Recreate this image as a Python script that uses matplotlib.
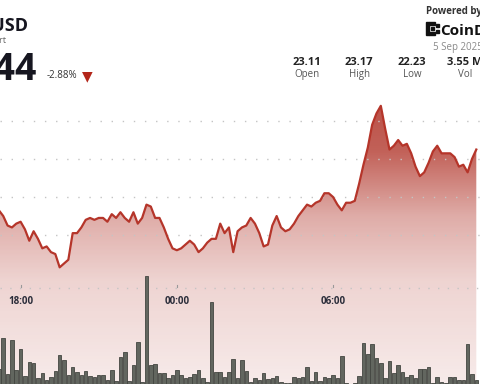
import numpy as np
import pandas as pd
import matplotlib.pyplot as plt
import matplotlib.dates as mdates
from matplotlib.patches import Rectangle

plt.rcParams['font.family'] = ['Open Sans', 'DejaVu Sans']

# 10 minute candles, LINK/USD
times = pd.date_range('2025-09-04 17:10', periods=111, freq='10min')

price = [22.73, 22.70, 22.65, 22.64, 22.66, 22.67, 22.63, 22.57, 22.62, 22.58,
         22.53, 22.54, 22.51, 22.50, 22.43, 22.45, 22.47, 22.61, 22.61, 22.64,
         22.68, 22.69, 22.68, 22.69, 22.69, 22.67, 22.71, 22.69, 22.72, 22.69,
         22.67, 22.72, 22.66, 22.69, 22.76, 22.75, 22.69, 22.69, 22.64, 22.58,
         22.53, 22.52, 22.53, 22.55, 22.57, 22.55, 22.51, 22.53, 22.56, 22.58,
         22.58, 22.66, 22.61, 22.64, 22.51, 22.62, 22.64, 22.65, 22.69, 22.66,
         22.61, 22.54, 22.55, 22.65, 22.70, 22.64, 22.62, 22.63, 22.66, 22.70,
         22.73, 22.76, 22.75, 22.77, 22.78, 22.82, 22.82, 22.80, 22.76, 22.73,
         22.77, 22.77, 22.78, 22.87, 22.97, 23.06, 23.18, 23.24, 23.28, 23.16,
         23.05, 23.07, 23.10, 23.07, 23.08, 23.03, 22.96, 22.91, 22.93, 22.98,
         23.04, 23.07, 23.03, 23.03, 23.03, 23.01, 22.96, 22.97, 22.93, 23.00,
         23.05]

# volume in thousands
volume = [15, 46, 10, 44, 14, 35, 8, 22, 21, 6, 11, 4, 7, 13, 29, 24, 9, 17, 12, 9,
          13, 8, 7, 9, 9, 4, 14, 3, 27, 32, 3, 19, 42, 2, 108, 19, 20, 11, 11, 6,
          9, 14, 9, 6, 7, 10, 14, 6, 2, 82, 12, 12, 7, 12, 25, 6,
          24, 13, 2, 6, 4, 11, 5, 6, 8, 2, 1, 1, 7, 6, 7, 17, 3, 12, 3, 7,
          6, 9, 6, 28, 1, 0.5, 1, 8, 41, 30, 40, 26, 21, 6, 23, 11, 19, 12, 7, 9,
          6, 15, 15, 17, 1, 7, 2, 1, 7, 7, 4, 4, 40, 10, 4]

grid_levels = [23.2, 23.0, 22.8, 22.6]
tick_times = ['2025-09-04 18:00', '2025-09-05 00:00', '2025-09-05 06:00']
tick_labels = ['18:00', '00:00', '06:00']

x = mdates.date2num(times)
step = 1 / 144.0
t18 = mdates.date2num(pd.Timestamp('2025-09-04 18:00'))
xlim = (t18 - 20.6 / 4.34 * step, t18 + (480 - 20.6) / 4.34 * step)
ylim = (21.816, 23.837)

fig = plt.figure(figsize=(4.8, 3.84), dpi=100)
ax = fig.add_axes([0, 0, 1, 1])
ax.set_xlim(xlim)
ax.set_ylim(ylim)
ax.axis('off')

# gradient fill under the line
rows = np.arange(384)
alpha = np.interp(rows, [100, 150, 215, 280, 384], [0.88, 0.8, 0.42, 0.22, 0.1])
grad = np.zeros((384, 2, 4))
grad[:, :, 0] = 0.70
grad[:, :, 1] = 0.22
grad[:, :, 2] = 0.18
grad[:, :, 3] = alpha[:, None]
fill = ax.fill_between(x, price, ylim[0], color='none', lw=0)
img = ax.imshow(grad, extent=[xlim[0], xlim[1], ylim[0], ylim[1]],
                aspect='auto', origin='upper', zorder=1, interpolation='bilinear')
img.set_clip_path(fill.get_paths()[0], transform=ax.transData)

for lv in grid_levels:
    ax.axhline(lv, color='#c4c4c4', lw=1, linestyle=(0, (1, 7)), zorder=2)
# time axis line
ax.plot([0, 1], [0.25, 0.25], color='#c4c4c4', lw=1, linestyle=(0, (1, 6)),
        transform=ax.transAxes, zorder=2)

ax.plot(x, price, color='#b5352a', lw=1.6, zorder=4, solid_joinstyle='round')

# time labels
for t, lab in zip(tick_times, tick_labels):
    tx = mdates.date2num(pd.Timestamp(t))
    ax.plot([tx, tx], [0.252, 0.259], color='#999999', lw=0.8,
            transform=ax.get_xaxis_transform(), zorder=3)
    ax.text(tx, 0.214, lab, ha='center', va='center', fontsize=7,
            fontweight='bold', color='#2b2d3a', transform=ax.get_xaxis_transform())

# volume bars
ax2 = fig.add_axes([0, 0, 1, 1], sharex=ax)
ax2.patch.set_alpha(0)
ax2.set_ylim(0, 384)
ax2.axis('off')
ax2.bar(x, volume, width=step * 0.82, color='#62665f', edgecolor='#434641',
        lw=0.6, align='center')

# header
def px(xp, yp):
    return xp / 480, 1 - yp / 384

fig.text(*px(28, 31), 'LINK/USD', ha='right', va='baseline', fontsize=13,
         fontweight='bold', color='#161620')
fig.text(*px(6, 43), 'Chart', ha='right', va='baseline', fontsize=6.5, color='#666666')
fig.text(*px(37, 80), '22.44', ha='right', va='baseline', fontsize=27,
         fontweight='bold', color='#161620')
fig.text(*px(47, 78), '-2.88%', ha='left', va='baseline', fontsize=7, color='#333333')
fig.text(*px(87, 76), '\u25bc', ha='center', va='center', fontsize=10,
         color='#b3261a', family='DejaVu Sans')

fig.text(*px(426, 14), 'Powered by', ha='left', va='baseline', fontsize=7,
         fontweight='bold', color='#333333')
for (lx, ly, lw_, lh) in [(426, 22, 3, 13), (429, 22, 6, 3), (429, 32, 6, 3),
                          (431, 27, 3, 3), (436, 24, 3, 3), (436, 30, 3, 3)]:
    fig.add_artist(Rectangle(px(lx, ly + lh), lw_ / 480, lh / 384,
                             transform=fig.transFigure, color='#111111'))
fig.text(*px(440, 35), 'CoinDesk', ha='left', va='baseline', fontsize=11,
         fontweight='bold', color='#111111')
fig.text(*px(433, 50), '5 Sep 2025', ha='left', va='baseline', fontsize=7,
         color='#8a8a8a')

stat_vals = ['23.11', '23.17', '22.23', '3.55 M']
stat_names = ['Open', 'High', 'Low', 'Vol']
stat_x = [307, 359, 412, 465]
for sx, v, n in zip(stat_x, stat_vals, stat_names):
    fig.text(*px(sx, 65), v, ha='center', va='baseline', fontsize=8,
             fontweight='bold', color='#222222')
    fig.text(*px(sx, 77), n, ha='center', va='baseline', fontsize=7,
             color='#555555')

fig.savefig('out.png', dpi=100)
